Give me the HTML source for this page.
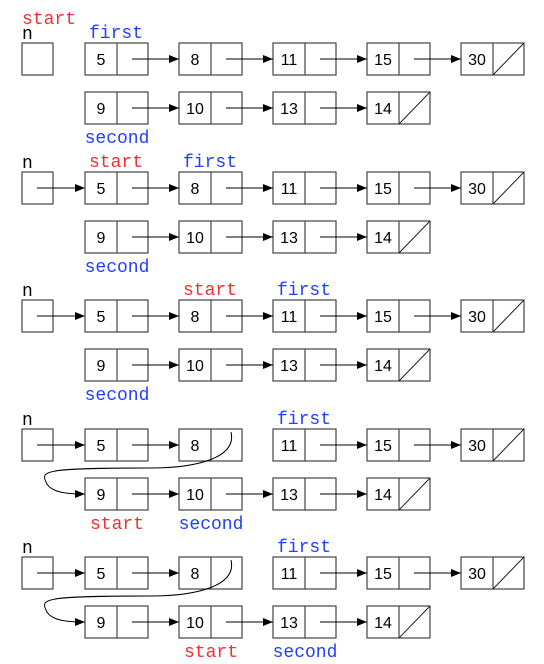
<!DOCTYPE html>
<html><head><meta charset="utf-8"><style>
html,body{margin:0;padding:0;background:#fff;}
svg{display:block;}
.num{font-family:"Liberation Sans",sans-serif;font-size:16px;}
.lbl{font-family:"Liberation Mono",monospace;font-size:18px;}
</style></head><body>
<svg id="s" width="544" height="664" viewBox="0 0 544 664" xmlns="http://www.w3.org/2000/svg">
<defs><marker id="ah" markerWidth="10" markerHeight="8" refX="10" refY="4" orient="auto" markerUnits="userSpaceOnUse"><path d="M0,0 L10,4 L0,8 z" fill="#000"/></marker></defs>
</svg>
<script>
const panelTops=[43,172,300,429,557];
const topVals=[5,8,11,15,30];
const botVals=[9,10,13,14];
const colX=[85,179,273,367,461];
const panelLabels=[
 [["start","#f03030","corner",0],["first","#2040ff","top",0],["second","#2040ff","bot",0]],
 [["start","#f03030","top",0],["first","#2040ff","top",1],["second","#2040ff","bot",0]],
 [["start","#f03030","top",1],["first","#2040ff","top",2],["second","#2040ff","bot",0]],
 [["first","#2040ff","top",2],["start","#f03030","bot",0],["second","#2040ff","bot",1]],
 [["first","#2040ff","top",2],["start","#f03030","bot",1],["second","#2040ff","bot",2]]
];
const s=document.getElementById('s');
const NS="http://www.w3.org/2000/svg";
function mk(tag,attrs,parent){const e=document.createElementNS(NS,tag);for(const k in attrs)e.setAttribute(k,attrs[k]);(parent||s).appendChild(e);return e;}
const W=63,H=32,BOFF=49;
function node(g,x,y,v,isNull){
 const n=mk('g',{},g);
 
 
 mk('rect',{x:x,y:y,width:W,height:H,fill:'#fff',stroke:'#444','stroke-width':1.2},n);
 mk('line',{x1:x+32,y1:y,x2:x+32,y2:y+H,stroke:'#444','stroke-width':1.2},n);
 const t=mk('text',{x:x+16,y:y+22,'text-anchor':'middle',class:'num'},n);t.textContent=v;
 if(isNull)mk('line',{x1:x+32,y1:y+H,x2:x+W,y2:y,stroke:'#222','stroke-width':1},n);
}
function arrow(g,x1,y,x2){const a=mk('line',{x1:x1,y1:y,x2:x2,y2:y,stroke:'#000','stroke-width':1,'marker-end':'url(#ah)'},g);
 }
panelTops.forEach((t,p)=>{
 const g=mk('g',{});
 
 
 const b=t+BOFF, my=t+16, by=b+16;
 mk('rect',{x:22,y:t,width:31,height:H,fill:'#fff',stroke:'#444','stroke-width':1.2},g);
 const nt=mk('text',{x:22,y:t-4,class:'lbl',fill:'#000'},g);nt.textContent='n';
 if(p>0)arrow(g,37,my,85);
 topVals.forEach((v,i)=>{node(g,colX[i],t,v,i===topVals.length-1);});
 botVals.forEach((v,i)=>{node(g,colX[i],b,v,i===botVals.length-1);});
 for(let i=0;i<topVals.length-1;i++){
  if(p>=3&&i===1)continue;
  arrow(g,colX[i]+47,my,colX[i+1]);
 }
 for(let i=0;i<botVals.length-1;i++)arrow(g,colX[i]+47,by,colX[i+1]);
 if(p>=3){
  const c=mk('path',{d:`M${colX[1]+52},${t+3} C${colX[1]+58},${t+28} ${colX[1]+20},${t+39} 150,${t+39} C40,${t+39} 40,${t+42} 47,${by-10} C52,${by-2} 65,${by} ${colX[0]},${by}`,fill:'none',stroke:'#000','stroke-width':1,'marker-end':'url(#ah)'},g);
  
 }
 panelLabels[p].forEach(([txt,col,row,ci])=>{
  let x,y,anchor='middle';
  if(row==='corner'){x=22;y=t-19;anchor='start';}
  else if(row==='top'){x=colX[ci]+31;y=t-5;}
  else {x=colX[ci]+32;y=b+H+19;}
  const e=mk('text',{x:x,y:y,'text-anchor':anchor,class:'lbl',fill:col},g);
  e.textContent=txt;
  
  
 });
});
</script>
</body></html>
